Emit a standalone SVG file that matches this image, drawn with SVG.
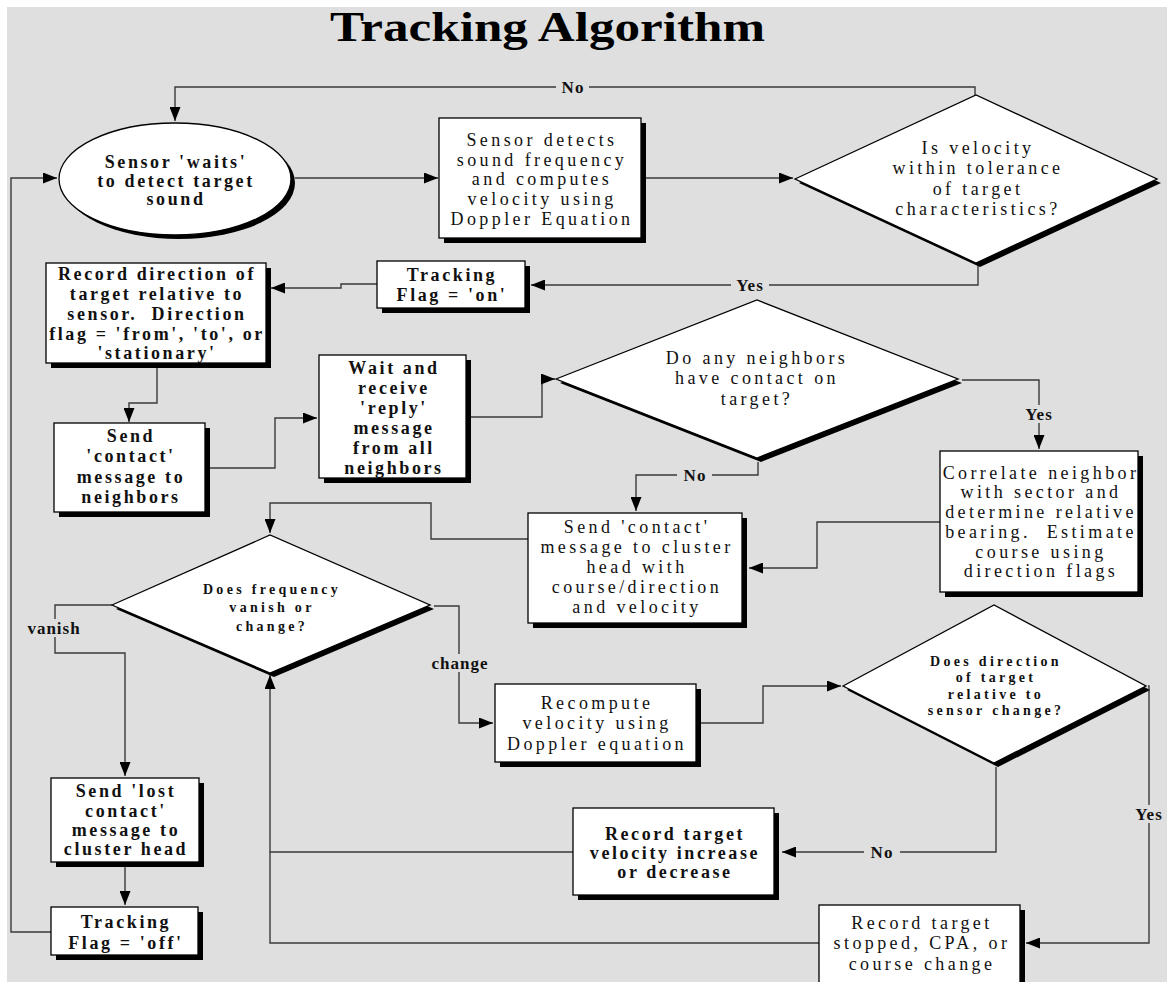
<svg xmlns="http://www.w3.org/2000/svg" width="1167" height="982" viewBox="0 0 1167 982">
<defs>
<marker id="ah" markerUnits="userSpaceOnUse" markerWidth="15" markerHeight="11" refX="14" refY="5.5" orient="auto">
<path d="M0,0 L14,5.5 L0,11 z" fill="#000"/>
</marker>
<style>
.bg{fill:#dfdfdf}
.n{fill:#fff;stroke:#000;stroke-width:1.3}
.sh{fill:#000}
.c{fill:none;stroke:#3a3a3a;stroke-width:1.4}
.a{marker-end:url(#ah)}
.lb{fill:#dfdfdf}
text{font-family:"Liberation Serif","Times New Roman",serif;text-anchor:middle;fill:#111}
.t{font-size:18px;letter-spacing:3.4px}
.tb{font-size:18px;font-weight:bold;letter-spacing:2.6px}
.ts{font-size:14px;font-weight:bold;letter-spacing:3.3px}
.l{font-size:17px;font-weight:bold;letter-spacing:1px}
.title{font-size:42px;font-weight:bold;text-anchor:start;fill:#000}
</style>
</defs>
<rect x="0" y="0" width="1167" height="982" fill="#fff"/>
<rect class="bg" x="7" y="7" width="1160" height="975"/>
<text class="title" x="330" y="41" textLength="435" lengthAdjust="spacingAndGlyphs">Tracking Algorithm</text>

<g id="connectors">
<path class="c a" d="M975,95 V87 H175 V121"/>
<path class="c a" d="M295,178 H438"/>
<path class="c a" d="M646,178 H793"/>
<path class="c a" d="M978,266 V285 H531"/>
<path class="c a" d="M377,284 H341 V288 H271"/>
<path class="c a" d="M157,368 V403 H129 V422"/>
<path class="c a" d="M210,468 H275 V418 H317"/>
<path class="c a" d="M471,417 H542 V379 H555"/>
<path class="c a" d="M962,380 H1039 V449"/>
<path class="c a" d="M758,462 V475 H636 V511"/>
<path class="c a" d="M940,522 H817 V568 H749"/>
<path class="c a" d="M528,539 H431 V503 H270 V533"/>
<path class="c a" d="M112,605 H55 V653 H125 V776"/>
<path class="c a" d="M125,866 V905"/>
<path class="c a" d="M51,932 H11 V178 H57"/>
<path class="c a" d="M434,606 H459 V723 H493"/>
<path class="c a" d="M700,723 H763 V686 H841"/>
<path class="c a" d="M1148,686 H1149 V943 H1026"/>
<path class="c a" d="M996,767 V852 H782"/>
<path class="c a" d="M573,852 H270 V675"/>
<path class="c" d="M819,943 H270 V852"/>
<rect class="lb" x="556" y="78" width="33" height="18"/>
<text class="l" x="573" y="93">No</text>
<rect class="lb" x="731" y="276" width="38" height="18"/>
<text class="l" x="750" y="291">Yes</text>
<rect class="lb" x="1020" y="405" width="38" height="18"/>
<text class="l" x="1039" y="420">Yes</text>
<rect class="lb" x="677" y="466" width="35" height="18"/>
<text class="l" x="695" y="481">No</text>
<rect class="lb" x="20" y="619" width="68" height="18"/>
<text class="l" x="54" y="634">vanish</text>
<rect class="lb" x="427" y="654" width="66" height="18"/>
<text class="l" x="460" y="669">change</text>
<rect class="lb" x="1131" y="805" width="36" height="18"/>
<text class="l" x="1149" y="820">Yes</text>
<rect class="lb" x="864" y="843" width="36" height="18"/>
<text class="l" x="882" y="858">No</text>
</g>

<g id="n-wait-sensor">
<ellipse class="sh" cx="179" cy="183" rx="116" ry="56"/>
<ellipse class="n" cx="175" cy="179" rx="116" ry="56"/>
<text class="tb" x="176" y="168">Sensor 'waits'</text>
<text class="tb" x="176" y="187">to detect target</text>
<text class="tb" x="176" y="205">sound</text>
</g>

<g id="n-sensor-detects">
<rect class="sh" x="444" y="123" width="202" height="120"/>
<rect class="n" x="439" y="118" width="202" height="120"/>
<text class="t" x="542" y="146">Sensor detects</text>
<text class="t" x="542" y="166">sound frequency</text>
<text class="t" x="542" y="185">and computes</text>
<text class="t" x="542" y="205">velocity using</text>
<text class="t" x="542" y="225">Doppler Equation</text>
</g>

<g id="n-velocity-decision">
<polygon class="sh" points="799,183 980,99 1161,183 980,267"/>
<polygon class="n" points="795,179 976,95 1157,179 976,263"/>
<text class="t" x="978" y="154">Is velocity</text>
<text class="t" x="978" y="174">within tolerance</text>
<text class="t" x="978" y="195">of target</text>
<text class="t" x="978" y="215">characteristics?</text>
</g>

<g id="n-tracking-on">
<rect class="sh" x="382" y="266" width="148" height="47"/>
<rect class="n" x="377" y="261" width="148" height="47"/>
<text class="tb" x="452" y="281">Tracking</text>
<text class="tb" x="452" y="301">Flag = 'on'</text>
</g>

<g id="n-record-direction">
<rect class="sh" x="51" y="268" width="220" height="100"/>
<rect class="n" x="46" y="263" width="220" height="100"/>
<text class="tb" x="157" y="280">Record direction of</text>
<text class="tb" x="157" y="300">target relative to</text>
<text class="tb" x="157" y="320">sensor.&#160; Direction</text>
<text class="tb" x="157" y="340">flag = 'from', 'to', or</text>
<text class="tb" x="157" y="359">'stationary'</text>
</g>

<g id="n-send-contact">
<rect class="sh" x="59" y="428" width="151" height="89"/>
<rect class="n" x="54" y="423" width="151" height="89"/>
<text class="tb" x="131" y="442">Send</text>
<text class="tb" x="131" y="462">'contact'</text>
<text class="tb" x="131" y="483">message to</text>
<text class="tb" x="131" y="503">neighbors</text>
</g>

<g id="n-wait-reply">
<rect class="sh" x="324" y="360" width="147" height="123"/>
<rect class="n" x="319" y="355" width="147" height="123"/>
<text class="tb" x="394" y="374">Wait and</text>
<text class="tb" x="394" y="394">receive</text>
<text class="tb" x="394" y="414">'reply'</text>
<text class="tb" x="394" y="434">message</text>
<text class="tb" x="394" y="454">from all</text>
<text class="tb" x="394" y="474">neighbors</text>
</g>

<g id="n-neighbors-decision">
<polygon class="sh" points="560,383 761,304 962,383 761,462"/>
<polygon class="n" points="556,379 757,300 958,379 757,458"/>
<text class="t" x="757" y="364">Do any neighbors</text>
<text class="t" x="757" y="384">have contact on</text>
<text class="t" x="757" y="405">target?</text>
</g>

<g id="n-correlate">
<rect class="sh" x="945" y="456" width="198" height="141"/>
<rect class="n" x="940" y="451" width="198" height="141"/>
<text class="t" x="1041" y="479">Correlate neighbor</text>
<text class="t" x="1041" y="498">with sector and</text>
<text class="t" x="1041" y="518">determine relative</text>
<text class="t" x="1041" y="538">bearing.&#160; Estimate</text>
<text class="t" x="1041" y="558">course using</text>
<text class="t" x="1041" y="577">direction flags</text>
</g>

<g id="n-send-cluster">
<rect class="sh" x="533" y="518" width="214" height="110"/>
<rect class="n" x="528" y="513" width="214" height="110"/>
<text class="t" x="637" y="533">Send 'contact'</text>
<text class="t" x="637" y="553">message to cluster</text>
<text class="t" x="637" y="573">head with</text>
<text class="t" x="637" y="593">course/direction</text>
<text class="t" x="637" y="613">and velocity</text>
</g>

<g id="n-frequency-decision">
<polygon class="sh" points="116,609 274,539 434,609 274,677"/>
<polygon class="n" points="112,605 270,535 430,605 270,673"/>
<text class="ts" x="272" y="594">Does frequency</text>
<text class="ts" x="272" y="612">vanish or</text>
<text class="ts" x="272" y="631">change?</text>
</g>

<g id="n-recompute">
<rect class="sh" x="500" y="689" width="201" height="78"/>
<rect class="n" x="495" y="684" width="201" height="78"/>
<text class="t" x="597" y="709">Recompute</text>
<text class="t" x="597" y="729">velocity using</text>
<text class="t" x="597" y="750">Doppler equation</text>
</g>

<g id="n-direction-decision">
<polygon class="sh" points="847,690 998,609 1150,690 998,767"/>
<polygon class="n" points="843,686 994,605 1146,686 994,763"/>
<text class="ts" x="996" y="666">Does direction</text>
<text class="ts" x="996" y="682">of target</text>
<text class="ts" x="996" y="699">relative to</text>
<text class="ts" x="996" y="715">sensor change?</text>
</g>

<g id="n-send-lost">
<rect class="sh" x="56" y="783" width="148" height="84"/>
<rect class="n" x="51" y="778" width="148" height="84"/>
<text class="tb" x="126" y="797">Send 'lost</text>
<text class="tb" x="126" y="817">contact'</text>
<text class="tb" x="126" y="836">message to</text>
<text class="tb" x="126" y="855">cluster head</text>
</g>

<g id="n-tracking-off">
<rect class="sh" x="56" y="912" width="147" height="48"/>
<rect class="n" x="51" y="907" width="147" height="48"/>
<text class="tb" x="126" y="928">Tracking</text>
<text class="tb" x="126" y="949">Flag = 'off'</text>
</g>

<g id="n-record-velocity">
<rect class="sh" x="578" y="813" width="201" height="87"/>
<rect class="n" x="573" y="808" width="201" height="87"/>
<text class="tb" x="675" y="840">Record target</text>
<text class="tb" x="675" y="859">velocity increase</text>
<text class="tb" x="675" y="878">or decrease</text>
</g>

<g id="n-record-stopped">
<rect class="sh" x="824" y="910" width="201" height="85"/>
<rect class="n" x="819" y="905" width="201" height="85"/>
<text class="t" x="922" y="929">Record target</text>
<text class="t" x="922" y="949">stopped, CPA, or</text>
<text class="t" x="922" y="970">course change</text>
</g>
</svg>
